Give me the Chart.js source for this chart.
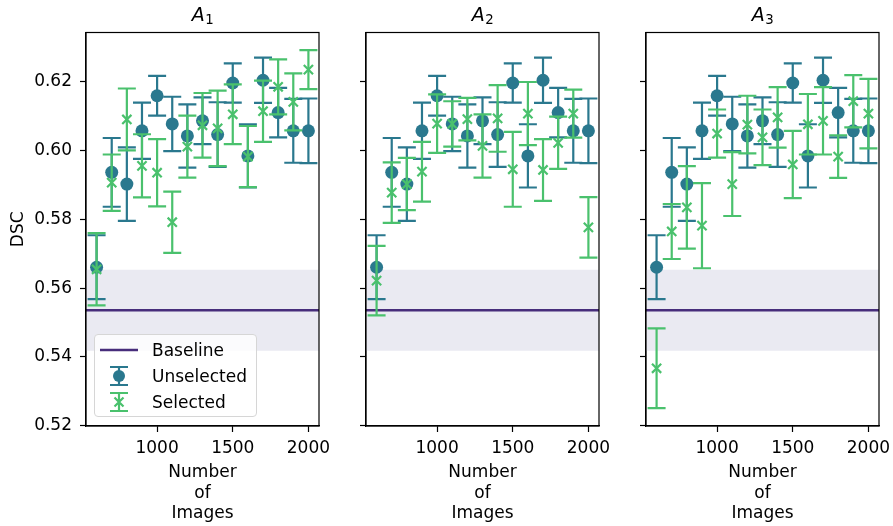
<!DOCTYPE html>
<html>
<head>
<meta charset="utf-8">
<script src="https://cdn.jsdelivr.net/npm/chart.js@4.4.1/dist/chart.umd.min.js"></script>
<style>
  body { margin: 0; background: #fff; }
  #fig { position: relative; width: 893px; height: 526px; font-family: 'DejaVu Sans', sans-serif; }
  #fig canvas { position: absolute; top: 0; }
  .legend {
    position: absolute; left: 94px; top: 334px; width: 163px; height: 83px;
    box-sizing: border-box; border: 1px solid #d6d6d6; border-radius: 4px;
    background: rgba(255,255,255,0.8); padding-top: 2px;
  }
  .legend .row { height: 26px; display: flex; align-items: center; font-size: 17px; color: #000; }
  .legend svg { margin-left: 5px; }
  .legend span { margin-left: 12px; }
</style>
</head>
<body>
<div id="fig">
  <canvas id="panel1" width="330" height="526" style="left:0px"></canvas>
  <canvas id="panel2" width="280" height="526" style="left:330px"></canvas>
  <canvas id="panel3" width="283" height="526" style="left:610px"></canvas>
  <div class="legend">
    <div class="row">
      <svg width="40" height="22"><line x1="0" y1="11" x2="38" y2="11" stroke="#472d7b" stroke-width="2.5"/></svg>
      <span>Baseline</span>
    </div>
    <div class="row">
      <svg width="40" height="22">
        <path d="M19 2 V20 M10 2 H28 M10 20 H28" stroke="#2a788e" stroke-width="2.2" fill="none"/>
        <circle cx="19" cy="11" r="6" fill="#2a788e"/>
      </svg>
      <span>Unselected</span>
    </div>
    <div class="row">
      <svg width="40" height="22">
        <path d="M19 2 V20 M10 2 H28 M10 20 H28 M14.5 6.5 L23.5 15.5 M23.5 6.5 L14.5 15.5" stroke="#4ac16d" stroke-width="2.2" fill="none"/>
      </svg>
      <span>Selected</span>
    </div>
  </div>
</div>
<script>
// number of images (x)
const imageCounts = [600, 700, 800, 900, 1000, 1100, 1200, 1300, 1400, 1500, 1600, 1700, 1800, 1900, 2000];

// unselected - same in all three panels
const unselMean = [0.5661, 0.5937, 0.5903, 0.6058, 0.6160, 0.6078, 0.6043, 0.6087, 0.6047, 0.6197, 0.5985, 0.6205, 0.6111, 0.6058, 0.6058];
const unselErr  = [0.0093, 0.0100, 0.0107, 0.0082, 0.0058, 0.0079, 0.0092, 0.0068, 0.0094, 0.0057, 0.0092, 0.0066, 0.0072, 0.0093, 0.0094];

// selected, per panel
const selMeanA1 = [0.5655, 0.5907, 0.6091, 0.5956, 0.5936, 0.5792, 0.6012, 0.6074, 0.6065, 0.6106, 0.5983, 0.6115, 0.6186, 0.6142, 0.6236];
const selErrA1  = [0.0105, 0.0082, 0.0090, 0.0092, 0.0098, 0.0089, 0.0090, 0.0094, 0.0110, 0.0087, 0.0089, 0.0089, 0.0080, 0.0083, 0.0057];
const selMeanA2 = [0.5622, 0.5878, 0.5903, 0.5939, 0.6079, 0.6078, 0.6092, 0.6014, 0.6094, 0.5946, 0.6108, 0.5944, 0.6023, 0.6108, 0.5777];
const selErrA2  = [0.0101, 0.0088, 0.0076, 0.0087, 0.0085, 0.0066, 0.0062, 0.0092, 0.0097, 0.0109, 0.0092, 0.0090, 0.0076, 0.0070, 0.0088];
const selMeanA3 = [0.5367, 0.5765, 0.5835, 0.5782, 0.6050, 0.5903, 0.6076, 0.6039, 0.6097, 0.5960, 0.6077, 0.6087, 0.5983, 0.6144, 0.6108];
const selErrA3  = [0.0116, 0.0080, 0.0120, 0.0124, 0.0070, 0.0093, 0.0084, 0.0081, 0.0088, 0.0098, 0.0088, 0.0098, 0.0062, 0.0076, 0.0101];

// baseline mean and std band
const baselineMean = 0.5536;
const baselineStd = 0.0118;

// axes
const xMin = 530, xMax = 2070;
const yMin = 0.5199, yMax = 0.6344;
const xTicks = [1000, 1500, 2000];
const yTicks = [0.52, 0.54, 0.56, 0.58, 0.60, 0.62];

const teal = '#2a788e';
const green = '#4ac16d';
const purple = '#472d7b';
const font = { family: "'DejaVu Sans', sans-serif", size: 17 };

// vertical error bars with caps, drawn just before each dataset's markers
const errorBars = {
  id: 'errorBars',
  beforeDatasetDraw(chart, args) {
    const ds = chart.data.datasets[args.index];
    if (!ds.errors) return;
    const { ctx, scales: { x, y } } = chart;
    ctx.save();
    ctx.strokeStyle = ds.borderColor;
    ctx.lineWidth = 2.2;
    ds.data.forEach((p, i) => {
      const px = x.getPixelForValue(p.x);
      const top = y.getPixelForValue(p.y + ds.errors[i]);
      const bot = y.getPixelForValue(p.y - ds.errors[i]);
      ctx.beginPath();
      ctx.moveTo(px, top); ctx.lineTo(px, bot);
      ctx.moveTo(px - 9, top); ctx.lineTo(px + 9, top);
      ctx.moveTo(px - 9, bot); ctx.lineTo(px + 9, bot);
      ctx.stroke();
    });
    ctx.restore();
  }
};

// top/right spines like matplotlib
const frame = {
  id: 'frame',
  afterDatasetsDraw(chart) {
    const { ctx, chartArea: a } = chart;
    ctx.save();
    ctx.strokeStyle = '#000';
    ctx.lineWidth = 1.2;
    ctx.strokeRect(a.left, a.top, a.right - a.left, a.bottom - a.top);
    ctx.restore();
  }
};

// panel title: italic A with a lowered subscript digit
const subTitle = {
  id: 'subTitle',
  afterDraw(chart, args, opts) {
    const { ctx, chartArea: a } = chart;
    const main = "italic 19px 'DejaVu Sans'";
    const sub = "13.3px 'DejaVu Sans'";
    ctx.save();
    ctx.fillStyle = '#000';
    ctx.textBaseline = 'alphabetic';
    ctx.font = main;
    const wA = ctx.measureText(opts.base).width;
    ctx.font = sub;
    const wS = ctx.measureText(opts.sub).width;
    const x0 = (a.left + a.right) / 2 - (wA + wS) / 2;
    ctx.font = main;
    ctx.fillText(opts.base, x0, 20.7);
    ctx.font = sub;
    ctx.fillText(opts.sub, x0 + wA + 0.5, 24.3);
    ctx.restore();
  }
};

function pts(ys) {
  return imageCounts.map((n, i) => ({ x: n, y: ys[i] }));
}

function makePanel(id, titleSub, selMean, selErr, yAxisW, padRight, showY) {
  return new Chart(document.getElementById(id), {
    type: 'line',
    data: {
      datasets: [
        {
          label: 'band hi',
          data: [{ x: xMin, y: baselineMean + baselineStd }, { x: xMax, y: baselineMean + baselineStd }],
          borderWidth: 0, pointRadius: 0, fill: '+1',
          backgroundColor: '#eaeaf2', order: 4
        },
        {
          label: 'band lo',
          data: [{ x: xMin, y: baselineMean - baselineStd }, { x: xMax, y: baselineMean - baselineStd }],
          borderWidth: 0, pointRadius: 0, fill: false, order: 5
        },
        {
          label: 'Baseline',
          data: [{ x: xMin, y: baselineMean }, { x: xMax, y: baselineMean }],
          borderColor: purple, borderWidth: 2.5, pointRadius: 0, fill: false, order: 3
        },
        {
          label: 'Unselected',
          data: pts(unselMean), errors: unselErr,
          showLine: false, pointStyle: 'circle', pointRadius: 6.5,
          borderColor: teal, backgroundColor: teal, pointBorderWidth: 0, order: 2
        },
        {
          label: 'Selected',
          data: pts(selMean), errors: selErr,
          showLine: false, pointStyle: 'crossRot', pointRadius: 6.5,
          borderColor: green, backgroundColor: green, pointBorderWidth: 2.2, order: 1
        }
      ]
    },
    options: {
      responsive: false,
      animation: false,
      devicePixelRatio: 1,
      layout: { padding: { left: 0, right: padRight, top: 32.5, bottom: 0 } },
      plugins: {
        legend: { display: false },
        tooltip: { enabled: false },
        title: { display: false },
        subTitle: { base: 'A', sub: titleSub }
      },
      scales: {
        x: {
          type: 'linear', min: xMin, max: xMax,
          afterBuildTicks: s => { s.ticks = xTicks.map(v => ({ value: v })); },
          ticks: { callback: v => String(v), font, color: '#000', padding: 6, maxRotation: 0 },
          grid: { drawOnChartArea: false, drawTicks: true, tickLength: 6, tickWidth: 1.2, tickColor: '#000' },
          border: { color: '#000', width: 1.2 },
          title: { display: true, text: ['Number', 'of', 'Images'], font, color: '#000', padding: { top: 0, bottom: 2 } },
          afterFit: s => { s.height = 100; s.paddingLeft = 0; s.paddingRight = 0; }
        },
        y: {
          type: 'linear', min: yMin, max: yMax,
          afterBuildTicks: s => { s.ticks = yTicks.map(v => ({ value: v })); },
          ticks: { callback: v => showY ? v.toFixed(2) : '', font, color: '#000', padding: 8 },
          grid: { drawOnChartArea: false, drawTicks: true, tickLength: 6, tickWidth: 1.2, tickColor: '#000' },
          border: { color: '#000', width: 1.2 },
          title: { display: showY, text: 'DSC', font, color: '#000', padding: { top: 8, bottom: 0 } },
          afterFit: s => { s.width = yAxisW; s.paddingTop = 0; s.paddingBottom = 0; }
        }
      }
    },
    plugins: [errorBars, frame, subTitle]
  });
}

makePanel('panel1', '1', selMeanA1, selErrA1, 86, 11, true);
makePanel('panel2', '2', selMeanA2, selErrA2, 36, 11, false);
makePanel('panel3', '3', selMeanA3, selErrA3, 36, 14, false);
</script>
</body>
</html>
